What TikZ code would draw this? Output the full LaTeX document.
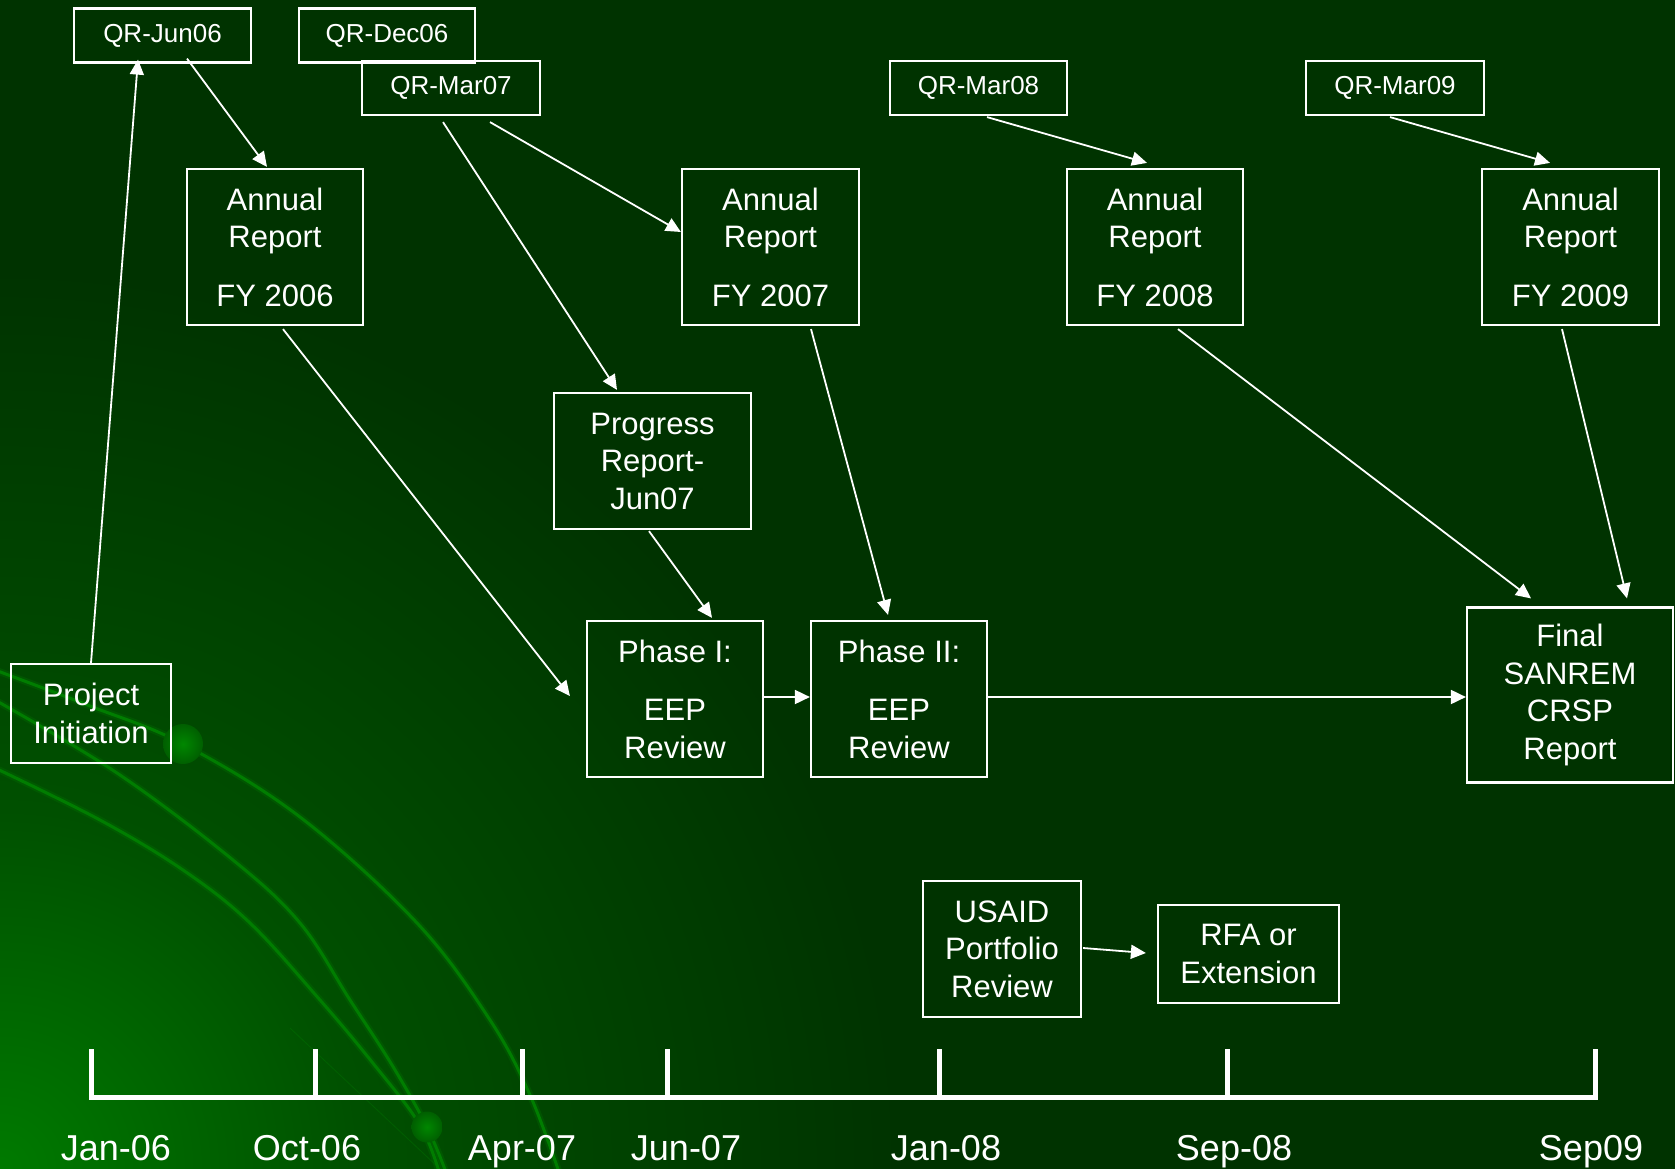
\documentclass[tikz,border=0pt]{standalone}
\usepackage{fontspec}
\setmainfont{Liberation Sans}
\usetikzlibrary{arrows.meta,calc}
\definecolor{bg}{RGB}{0,51,0}
\definecolor{glow}{RGB}{0,122,0}
\definecolor{glowmid}{RGB}{0,80,0}
\definecolor{deco}{RGB}{0,125,0}
\definecolor{ballin}{RGB}{0,135,0}
\definecolor{ballout}{RGB}{0,95,0}
\pgfdeclareradialshading{cornerglow}{\pgfpoint{0bp}{0bp}}{color(0bp)=(glow); color(10bp)=(glowmid); color(25bp)=(bg); color(50bp)=(bg)}
\begin{document}
\begin{tikzpicture}[x=1pt,y=-1pt,
  box/.style={draw=white,line width=2.2pt,inner sep=0pt,text=white,align=center,
    font=\fontsize{31}{37.5}\selectfont},
  qr/.style={draw=white,line width=2.2pt,inner sep=0pt,text=white,
    font=\fontsize{26}{30}\selectfont,minimum height=54pt},
  conn/.style={draw=white,line width=1.8pt,-{Triangle[length=15pt,width=14pt]}},
  axislbl/.style={text=white,font=\fontsize{36}{40}\selectfont,anchor=base,inner sep=0pt},
  decoline/.style={draw=deco,line width=3pt,line cap=round},
  decoglow/.style={draw=deco,line width=7pt,opacity=0.25,line cap=round}]
\useasboundingbox (0,0) rectangle (1675,1169);
% background
\fill[bg] (0,0) rectangle (1675,1169);
\begin{scope}
  \clip (0,0) rectangle (1675,1169);
  \shade[shading=cornerglow] (0,1169) circle (900);
  % decorative curves
  \foreach \s in {decoglow,decoline}{
    \draw[\s] plot[smooth,tension=0.6] coordinates {(-5,670) (90,706) (183,744) (300,817) (417,923) (490,1020) (530,1095) (560,1175)};
    \draw[\s] plot[smooth,tension=0.6] coordinates {(-5,700) (117,773) (233,860) (300,923) (350,1000) (392,1065) (427,1127) (447,1175)};
    \draw[\s] plot[smooth,tension=0.6] coordinates {(-5,768) (100,820) (183,870) (250,923) (320,1000) (372,1062) (420,1125) (440,1175)};
  }
  \draw[deco,line width=0.8pt,opacity=0.35] (290,1028) -- (440,1169);
  \shade[inner color=ballin,outer color=ballout] (183,744) circle (20);
  \shade[inner color=ballin,outer color=ballout] (427,1127) circle (15.5);
\end{scope}

% quarterly reports
\node[qr,minimum width=177pt] (QRJun06) at (162.5,35.5) {QR-Jun06};
\node[qr,minimum width=176pt] (QRDec06) at (387,35.5) {QR-Dec06};
\node[qr,minimum width=178pt] (QRMar07) at (451,88) {QR-Mar07};
\node[qr,minimum width=177pt] (QRMar08) at (978.5,88) {QR-Mar08};
\node[qr,minimum width=178pt] (QRMar09) at (1395,88) {QR-Mar09};

% annual reports
\node[box,minimum width=176pt,minimum height=156pt] (AR06) at (275,247) {Annual\\Report\\[21pt]FY 2006};
\node[box,minimum width=177pt,minimum height=156pt] (AR07) at (770.5,247) {Annual\\Report\\[21pt]FY 2007};
\node[box,minimum width=176pt,minimum height=156pt] (AR08) at (1155,247) {Annual\\Report\\[21pt]FY 2008};
\node[box,minimum width=177pt,minimum height=156pt] (AR09) at (1570.5,247) {Annual\\Report\\[21pt]FY 2009};

% others
\node[box,minimum width=197pt,minimum height=136pt] (Prog) at (652.5,461) {Progress\\Report-\\Jun07};
\node[box,minimum width=176pt,minimum height=156pt] (PhI) at (675,699) {Phase I:\\[21pt]EEP\\Review};
\node[box,minimum width=176pt,minimum height=156pt] (PhII) at (899,699) {Phase II:\\[21pt]EEP\\Review};
\node[box,minimum width=206pt,minimum height=175pt] (Final) at (1570,695) {Final\\SANREM\\CRSP\\Report};
\node[box,minimum width=160pt,minimum height=99pt] (Init) at (91,713.5) {Project\\Initiation};
\node[box,minimum width=158pt,minimum height=136pt] (USAID) at (1002,949) {USAID\\Portfolio\\Review};
\node[box,minimum width=181pt,minimum height=98pt] (RFA) at (1248.5,954) {RFA or\\Extension};

% connectors
\draw[conn] (Init.north) -- ($(QRJun06.south)+(-24.5,-4)$);
\draw[conn] ($(QRJun06.south)+(24.5,-5)$) -- ($(AR06.north)+(-8,-1)$);
\draw[conn] ($(QRMar07.south)+(-8,6)$) -- ($(Prog.north)+(-35.5,-2)$);
\draw[conn] ($(QRMar07.south)+(39,6)$) -- ($(AR07.west)+(0,-15)$);
\draw[conn] ($(AR06.south)+(8,3)$) -- ($(PhI.west)+(-16,-3)$);
\draw[conn] ($(AR07.south)+(40.5,3)$) -- ($(PhII.north)+(-11,-5)$);
\draw[conn] ($(Prog.south)+(-3.5,1)$) -- ($(PhI.north)+(37,-2)$);
\draw[conn] ($(PhI.east)+(0,-2)$) -- ($(PhII.west)+(0,-2)$);
\draw[conn] ($(PhII.east)+(0,-2)$) -- ($(PhII.east -| Final.west)+(0,-2)$);
\draw[conn] ($(QRMar08.south)+(8.5,1)$) -- ($(AR08.north)+(-8,-5)$);
\draw[conn] ($(QRMar09.south)+(-5,1)$) -- ($(AR09.north)+(-20.5,-5)$);
\draw[conn] ($(AR08.south)+(23,3)$) -- ($(Final.north)+(-39,-8)$);
\draw[conn] ($(AR09.south)+(-8.5,3)$) -- ($(Final.north)+(57,-8)$);
\draw[conn] ($(USAID.east)+(1,-1)$) -- ($(RFA.west)+(-11,-1)$);

% time axis
\draw[white,line width=5pt] (91,1049) -- (91,1097) -- (1595,1097) -- (1595,1049);
\foreach \x in {315,522,667,939,1227}
  \draw[white,line width=5pt] (\x,1049) -- (\x,1097);
\node[axislbl] (tJan06) at (116,1160) {Jan-06};
\node[axislbl] (tOct06) at (307,1160) {Oct-06};
\node[axislbl] (tApr07) at (522,1160) {Apr-07};
\node[axislbl] (tJun07) at (686,1160) {Jun-07};
\node[axislbl] (tJan08) at (946,1160) {Jan-08};
\node[axislbl] (tSep08) at (1234,1160) {Sep-08};
\node[axislbl] (tSep09) at (1591,1160) {Sep09};
\end{tikzpicture}
\end{document}
